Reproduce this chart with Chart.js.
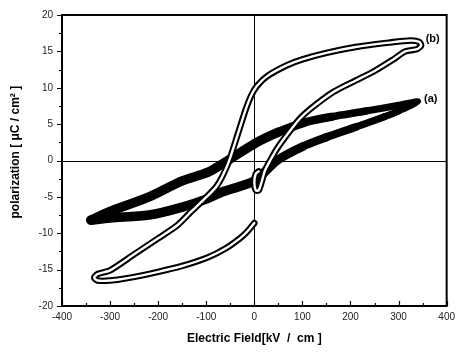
<!DOCTYPE html>
<html><head><meta charset="utf-8">
<script src="https://cdn.jsdelivr.net/npm/chart.js@4.4.1/dist/chart.umd.min.js"></script>
<style>html,body{margin:0;padding:0;background:#fff;overflow:hidden}#wrap{width:460px;height:357px}</style>
</head><body><div id="wrap"><canvas id="c" width="460" height="357"></canvas></div>
<script>
// ---- data ----
const xTickStep = 100;
const yTickStep = 5;
const xRange = [-400, 400];
const yRange = [-20, 20];
const xTitle = 'Electric Field[kV  /  cm ]';
const yTitle = '     polarization [ \u03bcC / cm\u00b2 ]';
const loopLabels = ['(a)', '(b)'];
const labelField = [367, 371];
const labelPol = [8.4, 16.7];

// loop (a): upper branch (left -> right) then lower branch (right -> left)
const fieldA_up = [-340, -300, -219, -150, -96, -60, 0, 50, 103, 160, 232, 300, 340];
const polA_up   = [-8.2, -7.0, -5.0, -2.8, -1.6, -0.2, 2.3, 3.9, 5.2, 6.0, 6.8, 7.6, 8.1];
const fieldA_down = [340, 300, 270, 211, 150, 100, 47, 0, -66, -96, -150, -219, -300, -340];
const polA_down   = [8.1, 6.8, 6.0, 4.6, 3.2, 1.9, 0.0, -2.8, -4.3, -5.2, -6.4, -7.5, -7.9, -8.2];

// loop (b): traced as one open path
const fieldB = [0, -15, -30, -60, -96, -150, -200, -267, -300, -326, -333, -326, -300, -250, -200, -160, -131, -110, -78, -55, -35, -18, -6, 5, 27, 68, 100, 150, 211, 280, 325, 343, 347, 338, 314, 287, 250, 211, 164, 115, 94, 70, 47, 33, 22, 15, 9, 3, 0, 3, 9];
const polB   = [-8.6, -9.8, -10.7, -12.1, -13.3, -14.5, -15.3, -16.2, -16.5, -16.5, -16.1, -15.6, -15.1, -12.9, -10.7, -8.9, -7.0, -5.7, -3.5, -0.5, 3.5, 7.0, 9.0, 10.2, 11.6, 13.1, 13.9, 14.8, 15.6, 16.2, 16.5, 16.3, 15.8, 15.3, 15.0, 13.8, 12.3, 11.0, 9.4, 7.0, 5.7, 3.7, 1.6, 0.0, -1.4, -3.0, -4.1, -4.1, -3.0, -1.8, -1.5];

// ---- build datasets ----
const toPts = (xs, ys) => xs.map((x, i) => ({x: x, y: ys[i]}));
const loopA = toPts(fieldA_up, polA_up).concat(toPts(fieldA_down, polA_down).slice(1));
const loopB = toPts(fieldB, polB);

const FONT = "'Liberation Sans', Arial, sans-serif";

const framePlugin = {
  id: 'frame',
  beforeDatasetsDraw(chart) {
    const {ctx, chartArea: a, scales: {x, y}} = chart;
    ctx.save();
    ctx.strokeStyle = '#000';
    ctx.lineWidth = 1;
    const x0 = Math.round(x.getPixelForValue(0)) + 0.5;
    const y0 = Math.round(y.getPixelForValue(0)) + 0.5;
    ctx.beginPath();
    ctx.moveTo(x0, a.top); ctx.lineTo(x0, a.bottom);
    ctx.moveTo(a.left, y0); ctx.lineTo(a.right, y0);
    ctx.stroke();
    ctx.restore();
  },
  afterDatasetsDraw(chart) {
    const {ctx, chartArea: a, scales: {x, y}} = chart;
    ctx.save();
    ctx.strokeStyle = '#000';
    ctx.lineWidth = 2;
    ctx.strokeRect(a.left, a.top, a.right - a.left, a.bottom - a.top);
    ctx.lineWidth = 1.2;
    ctx.beginPath();
    for (let v = xRange[0]; v <= xRange[1]; v += xTickStep / 2) {
      const px = Math.round(x.getPixelForValue(v)) + 0.5;
      const len = (v % xTickStep === 0) ? 5 : 3;
      ctx.moveTo(px, a.bottom); ctx.lineTo(px, a.bottom - len);
    }
    for (let v = yRange[0]; v <= yRange[1]; v += yTickStep / 2) {
      const py = Math.round(y.getPixelForValue(v)) + 0.5;
      const len = (v % yTickStep === 0) ? 5 : 3;
      ctx.moveTo(a.left, py); ctx.lineTo(a.left - len, py);
    }
    ctx.stroke();
    ctx.fillStyle = '#000';
    ctx.font = 'bold 11px ' + FONT;
    ctx.textAlign = 'center';
    ctx.textBaseline = 'middle';
    loopLabels.forEach((t, i) => {
      ctx.fillText(t, x.getPixelForValue(labelField[i]), y.getPixelForValue(labelPol[i]));
    });
    ctx.restore();
  }
};

new Chart(document.getElementById('c'), {
  type: 'scatter',
  data: {
    datasets: [
      {label: 'b-inner', data: loopB, showLine: true, borderColor: '#fff', borderWidth: 2.4, pointRadius: 0, tension: 0.25, borderJoinStyle: 'round', borderCapStyle: 'round'},
      {label: 'b', data: loopB, showLine: true, borderColor: '#000', borderWidth: 6.5, pointRadius: 0, tension: 0.25, borderJoinStyle: 'round', borderCapStyle: 'round'},
      {label: 'a', data: loopA, showLine: true, borderColor: '#000', borderWidth: 9, pointRadius: 0, tension: 0.3, borderJoinStyle: 'round', borderCapStyle: 'round',
        segment: {borderWidth: c => {
          const xm = (c.p0.parsed.x + c.p1.parsed.x) / 2;
          return Math.max(6, Math.min(9.5, 9.5 - xm / 110));
        }}}
    ]
  },
  options: {
    responsive: false,
    animation: false,
    devicePixelRatio: 1,
    layout: {padding: {top: 13, right: 8, left: 0, bottom: 0}},
    plugins: {legend: {display: false}, tooltip: {enabled: false}},
    scales: {
      x: {
        type: 'linear', min: xRange[0], max: xRange[1],
        afterFit: s => { s.height = 51; },
        grid: {display: false, drawTicks: false},
        border: {display: false},
        ticks: {stepSize: xTickStep, padding: 5, color: '#222', font: {family: FONT, size: 10}, maxRotation: 0},
        title: {display: true, text: xTitle, color: '#000', font: {family: FONT, size: 12, weight: 'bold'}, padding: {top: 0, bottom: 11}}
      },
      y: {
        type: 'linear', min: yRange[0], max: yRange[1],
        afterFit: s => { s.width = 62; },
        grid: {display: false, drawTicks: false},
        border: {display: false},
        ticks: {stepSize: yTickStep, padding: 9, color: '#222', font: {family: FONT, size: 10}},
        title: {display: true, text: yTitle, color: '#000', font: {family: FONT, size: 12, weight: 'bold'}, padding: {top: 8, bottom: 0}}
      }
    }
  },
  plugins: [framePlugin]
});
</script>
</body></html>
